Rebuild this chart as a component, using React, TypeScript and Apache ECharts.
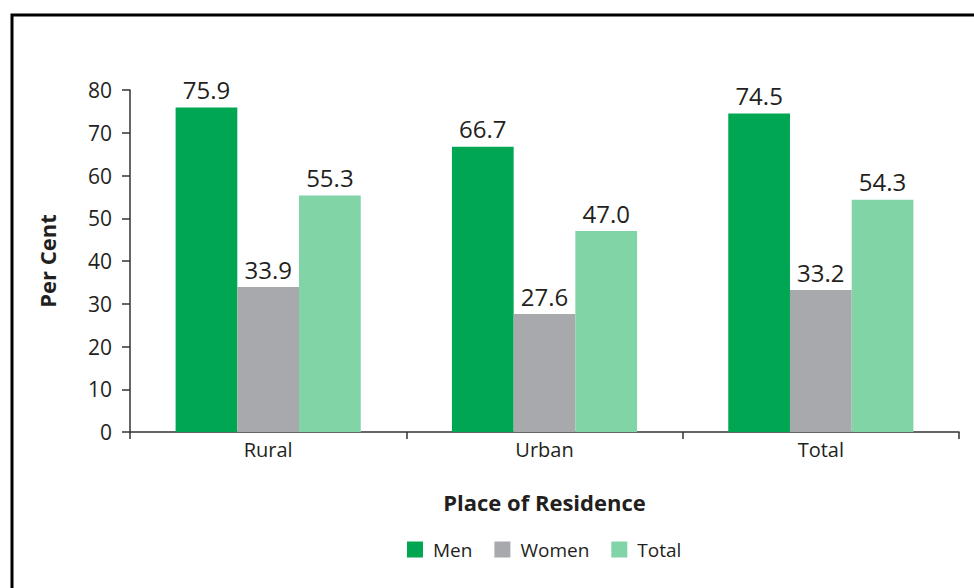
import React, { useEffect, useRef } from "react";
import * as echarts from "echarts";

const categories = ["Rural", "Urban", "Total"];
const menValues = [75.9, 66.7, 74.5];
const womenValues = [33.9, 27.6, 33.2];
const totalValues = [55.3, 47.0, 54.3];
const seriesNames = ["Men", "Women", "Total"];
const colors = ["#00A651", "#A7A9AC", "#80D4A6"];

const FONT = "'Open Sans', 'Noto Sans', sans-serif";
const TXT = "#231F20";

export default function App() {
  const ref = useRef<HTMLDivElement>(null);
  useEffect(() => {
    if (!ref.current) return;
    const chart = echarts.init(ref.current, undefined, { renderer: "svg" });
    const data = [menValues, womenValues, totalValues];
    chart.setOption({
      animation: false,
      backgroundColor: "#fff",
      textStyle: { fontFamily: FONT },
      graphic: [
        {
          type: "rect",
          shape: { x: 12, y: 15, width: 1100, height: 700 },
          style: { fill: "none", stroke: "#000", lineWidth: 3 },
          silent: true,
        },
      ],
      legend: {
        top: 540,
        left: 407,
        padding: 0,
        itemWidth: 16,
        itemHeight: 16,
        itemGap: 22,
        icon: "rect",
        textStyle: { fontFamily: FONT, fontSize: 19, color: TXT, padding: [0, 0, 0, 5] },
        data: seriesNames,
      },
      grid: { left: 130, right: 15, top: 90, bottom: 156, containLabel: false },
      xAxis: {
        type: "category",
        data: categories,
        name: "Place of Residence",
        nameLocation: "middle",
        nameGap: 59,
        nameTextStyle: { fontFamily: FONT, fontSize: 22, fontWeight: "bold", color: TXT },
        axisLine: { lineStyle: { color: "#333", width: 1.5 } },
        axisTick: { show: true, length: 7, lineStyle: { color: "#333", width: 1.5 } },
        axisLabel: { fontFamily: FONT, fontSize: 20, color: TXT, margin: 7 },
      },
      yAxis: {
        type: "value",
        min: 0,
        max: 80,
        interval: 10,
        name: "Per Cent",
        nameLocation: "middle",
        nameGap: 72,
        nameTextStyle: { fontFamily: FONT, fontSize: 22, fontWeight: "bold", color: TXT },
        axisLine: { show: true, lineStyle: { color: "#333", width: 1.5 } },
        axisTick: { show: true, length: 8, lineStyle: { color: "#333", width: 1.5 } },
        axisLabel: { fontFamily: FONT, fontSize: 21, color: TXT, margin: 18 },
        splitLine: { show: false },
      },
      series: seriesNames.map((name, i) => ({
        name,
        type: "bar",
        data: data[i],
        barGap: "0%",
        barCategoryGap: "33%",
        itemStyle: { color: colors[i] },
        label: {
          show: true,
          position: "top",
          distance: 6,
          fontFamily: FONT,
          fontSize: 24,
          color: TXT,
          formatter: (p: any) => Number(p.value).toFixed(1),
        },
      })),
    });
    return () => chart.dispose();
  }, []);
  return (
    <div
      ref={ref}
      style={{ position: "fixed", left: 0, top: 0, width: 974, height: 588 }}
    />
  );
}
